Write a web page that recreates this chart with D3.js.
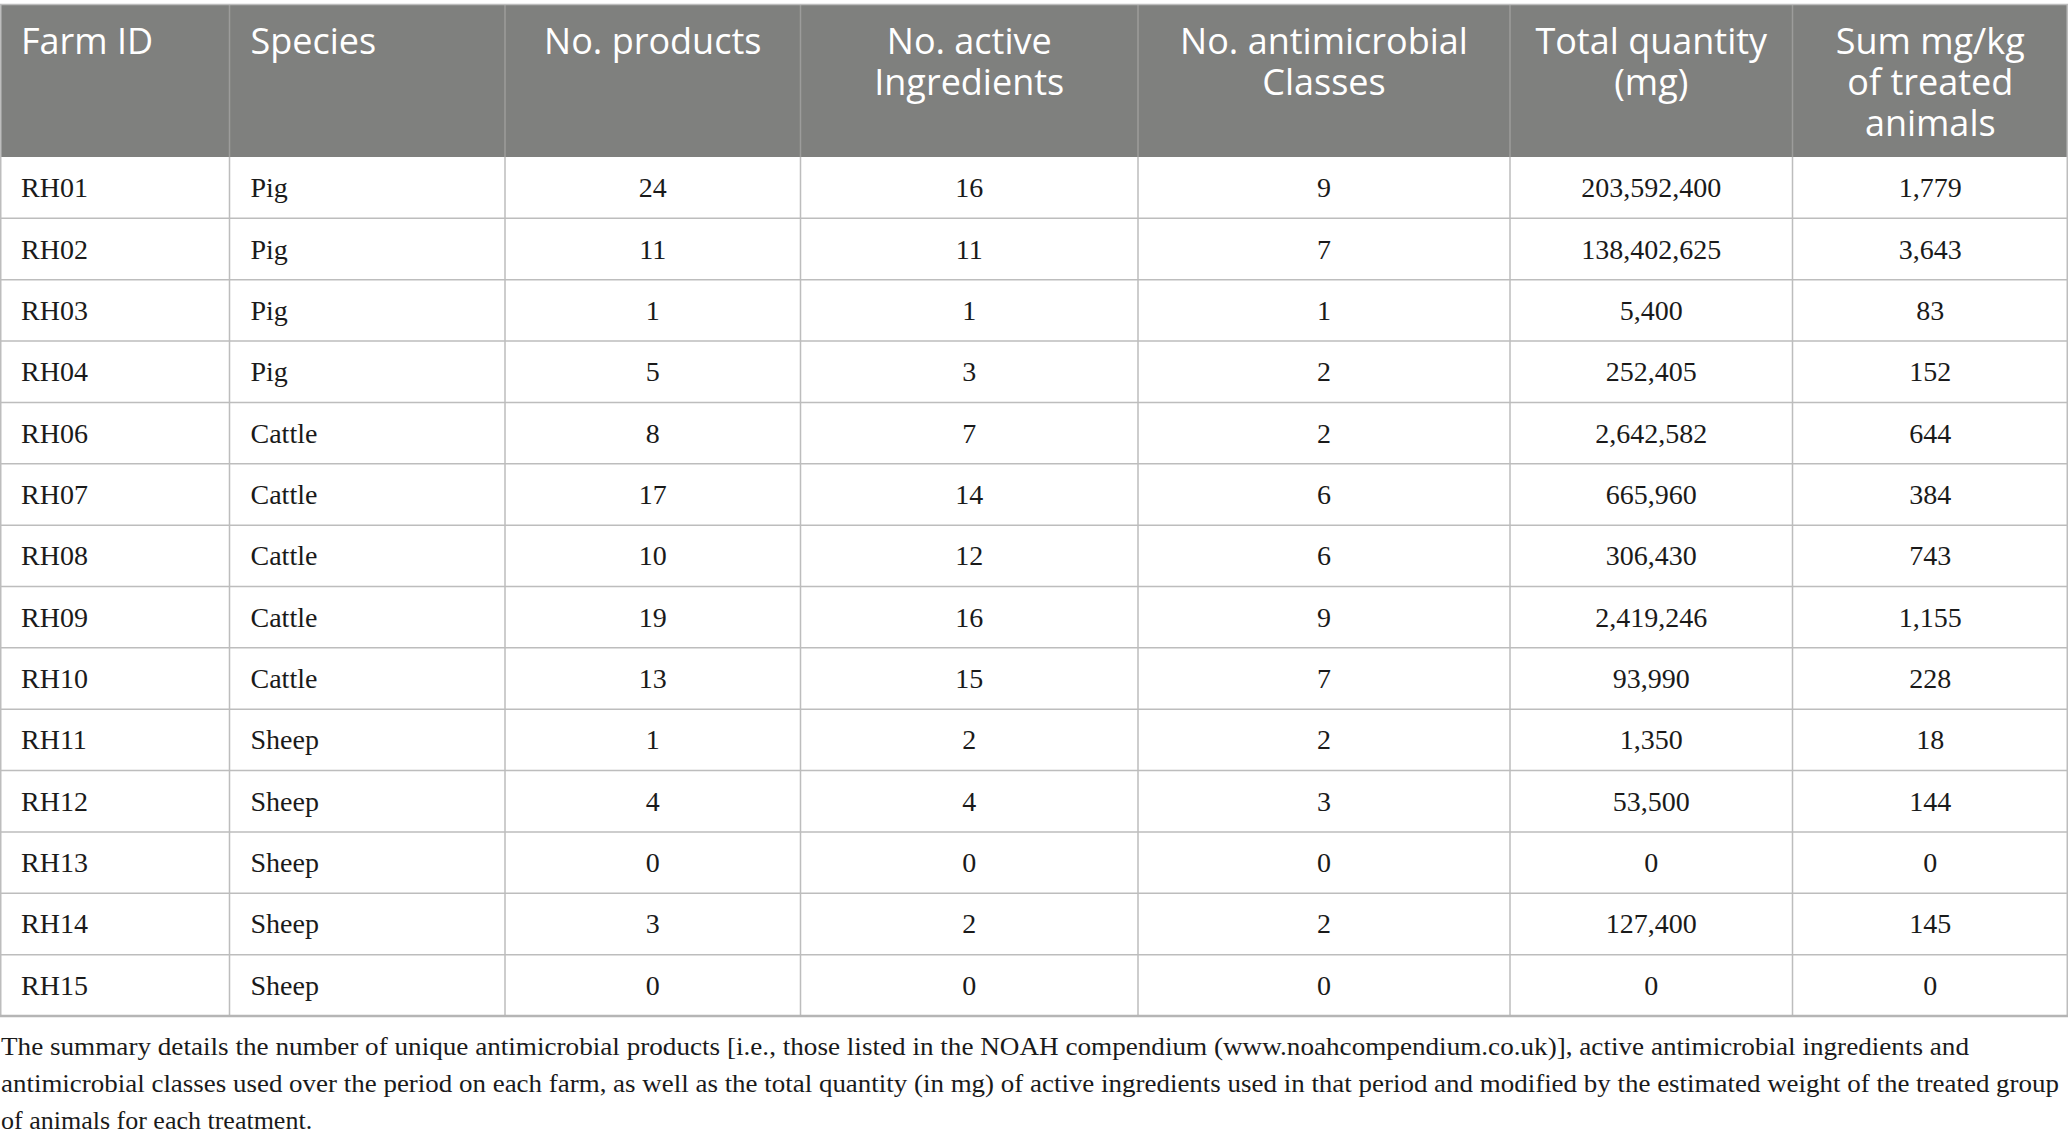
<!DOCTYPE html>
<html>
<head>
<meta charset="utf-8">
<script src="https://cdn.jsdelivr.net/npm/d3@7"></script>
<style>
  html, body { margin: 0; padding: 0; background: #ffffff; }
  svg { display: block; }
</style>
</head>
<body>
<svg id="chart" width="2068" height="1143"></svg>
<script>
// ---- data ----
const farmIds = ["RH01","RH02","RH03","RH04","RH06","RH07","RH08","RH09","RH10","RH11","RH12","RH13","RH14","RH15"];
const species = ["Pig","Pig","Pig","Pig","Cattle","Cattle","Cattle","Cattle","Cattle","Sheep","Sheep","Sheep","Sheep","Sheep"];
const products = [24,11,1,5,8,17,10,19,13,1,4,0,3,0];
const activeIngredients = [16,11,1,3,7,14,12,16,15,2,4,0,2,0];
const antimicrobialClasses = [9,7,1,2,2,6,6,9,7,2,3,0,2,0];
const totalQuantity = [203592400,138402625,5400,252405,2642582,665960,306430,2419246,93990,1350,53500,0,127400,0];
const sumMgKg = [1779,3643,83,152,644,384,743,1155,228,18,144,0,145,0];
const headerLabels = [
  ["Farm ID"],
  ["Species"],
  ["No. products"],
  ["No. active", "Ingredients"],
  ["No. antimicrobial", "Classes"],
  ["Total quantity", "(mg)"],
  ["Sum mg/kg", "of treated", "animals"]
];
const captionLines = [
  "The summary details the number of unique antimicrobial products [i.e., those listed in the NOAH compendium (www.noahcompendium.co.uk)], active antimicrobial ingredients and",
  "antimicrobial classes used over the period on each farm, as well as the total quantity (in mg) of active ingredients used in that period and modified by the estimated weight of the treated group",
  "of animals for each treatment."
];

// ---- layout ----
const W = 2068;
const colEdges = [0, 229.5, 505, 800.5, 1138, 1510, 1792.5, 2068];
const colAlign = ["start","start","middle","middle","middle","middle","middle"];
const headerTop = 5, headerBottom = 157, tableBottom = 1016;
const padLeft = 21;
const fmt = d3.format(",");

const svg = d3.select("#chart");

const rows = farmIds.map((id, i) => [
  id, species[i], fmt(products[i]), fmt(activeIngredients[i]),
  fmt(antimicrobialClasses[i]), fmt(totalQuantity[i]), fmt(sumMgKg[i])
]);

const y = d3.scaleBand().domain(farmIds).range([headerBottom, tableBottom]);
const x = d3.scaleOrdinal().domain(d3.range(7)).range(colEdges.slice(0, 7));
const colW = i => colEdges[i + 1] - colEdges[i];
const textX = i => colAlign[i] === "start" ? x(i) + padLeft : x(i) + colW(i) / 2;

// header background
svg.append("rect")
  .attr("x", 0).attr("y", headerTop)
  .attr("width", W).attr("height", headerBottom - headerTop)
  .attr("fill", "#7f807e");

// header dividers
svg.append("g").selectAll("line")
  .data(colEdges.slice(1, -1))
  .join("line")
  .attr("x1", d => d).attr("x2", d => d)
  .attr("y1", headerTop).attr("y2", headerBottom)
  .attr("stroke", "#9c9c9b").attr("stroke-width", 1.5);

// header text
const hg = svg.append("g")
  .attr("font-family", "'Open Sans', 'Noto Sans', sans-serif")
  .attr("font-size", 36)
  .attr("fill", "#ffffff");
headerLabels.forEach((lines, i) => {
  const t = hg.append("text")
    .attr("text-anchor", colAlign[i])
    .attr("x", textX(i));
  lines.forEach((ln, k) => {
    t.append("tspan").attr("x", textX(i)).attr("y", 54 + k * 41).text(ln);
  });
});

// body grid: horizontal lines
svg.append("g").selectAll("line")
  .data(farmIds.slice(1))
  .join("line")
  .attr("x1", 0).attr("x2", W)
  .attr("y1", d => y(d)).attr("y2", d => y(d))
  .attr("stroke", "#bdbdbd").attr("stroke-width", 1.5);

// body grid: vertical lines
svg.append("g").selectAll("line")
  .data(colEdges.slice(1, -1))
  .join("line")
  .attr("x1", d => d).attr("x2", d => d)
  .attr("y1", headerBottom).attr("y2", tableBottom)
  .attr("stroke", "#bdbdbd").attr("stroke-width", 1.5);

// outer border
svg.append("rect")
  .attr("x", 0.75).attr("y", headerTop - 0.5)
  .attr("width", W - 1.5).attr("height", tableBottom - headerTop + 0.5)
  .attr("fill", "none").attr("stroke", "#bdbdbd").attr("stroke-width", 1.5);
svg.append("line")
  .attr("x1", 0).attr("x2", W)
  .attr("y1", tableBottom).attr("y2", tableBottom)
  .attr("stroke", "#b5b5b5").attr("stroke-width", 2.5);

// body text
const bg = svg.append("g")
  .attr("font-family", "'Liberation Serif', 'Times New Roman', serif")
  .attr("font-size", 28)
  .attr("fill", "#1a1a1a");
rows.forEach((r, ri) => {
  const cy = y(farmIds[ri]) + y.bandwidth() / 2;
  bg.append("g").selectAll("text")
    .data(r)
    .join("text")
    .attr("x", (d, i) => textX(i))
    .attr("y", cy + 9.5)
    .attr("text-anchor", (d, i) => colAlign[i])
    .text(d => d);
});

// caption
const capTargets = [1968, 2058, null];
const cg = svg.append("g")
  .attr("font-family", "'Liberation Serif', 'Times New Roman', serif")
  .attr("fill", "#1a1a1a");
captionLines.forEach((ln, i) => {
  const t = cg.append("text")
    .attr("x", 1)
    .attr("y", 1055 + i * 37)
    .attr("font-size", 26)
    .text(ln);
  const target = capTargets[i];
  if (target) {
    t.attr("textLength", target).attr("lengthAdjust", "spacingAndGlyphs");
  } else {
    const len = t.node().getComputedTextLength();
    t.attr("textLength", Math.min(len, 321)).attr("lengthAdjust", "spacingAndGlyphs");
  }
});
</script>
</body>
</html>
